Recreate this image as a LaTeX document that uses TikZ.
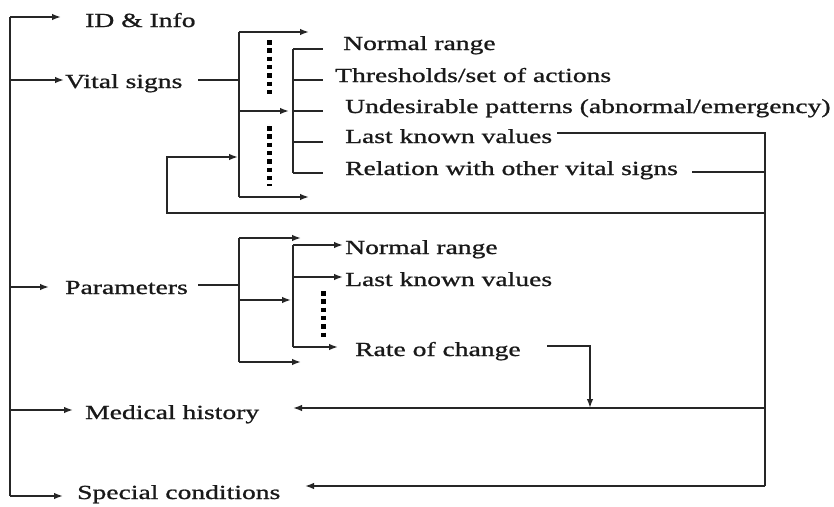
\documentclass[tikz,border=0pt]{standalone}
\usepackage{fontspec}
\setmainfont{Liberation Serif}[FakeStretch=1.38,FakeBold=1]
\usetikzlibrary{arrows.meta}
\begin{document}
\begin{tikzpicture}[x=1pt,y=-1pt,
  wire/.style={line width=1.5pt, draw=black!85},
  arr/.style={wire, -{Latex[length=9pt,width=6.5pt]}},
  dots/.style={line width=5pt, dash pattern=on 4.5pt off 3.8pt, draw=black},
  lbl/.style={anchor=base west, inner sep=0pt, font=\fontsize{20}{24}\selectfont, text=black!90}]
\useasboundingbox[fill=white] (0,0) rectangle (834,506);

% main categories
\node[lbl] (id)  at (85,27)  {ID \& Info};
\node[lbl] (vs)  at (65,88)  {Vital signs};
\node[lbl] (par) at (65,294) {Parameters};
\node[lbl] (mh)  at (85,419) {Medical history};
\node[lbl] (sc)  at (77,499) {Special conditions};

% vital sign attributes
\node[lbl] (vnr)  at (343,50)  {Normal range};
\node[lbl] (vth)  at (335,82)  {Thresholds/set of actions};
\node[lbl] (vun)  at (345,113) {Undesirable patterns (abnormal/emergency)};
\node[lbl] (vlk)  at (345,143) {Last known values};
\node[lbl] (vrel) at (345,175) {Relation with other vital signs};

% parameter attributes
\node[lbl] (pnr) at (345,254) {Normal range};
\node[lbl] (plk) at (345,286) {Last known values};
\node[lbl] (prc) at (355,356) {Rate of change};

% trunk and its branch ends
\coordinate (ttop) at (10,17);
\coordinate (tbot) at (10,496);
\coordinate (tvs)  at (10,80);
\coordinate (tpar) at (10,287);
\coordinate (tmh)  at (10,410);
\coordinate (idin)  at (61,17);
\coordinate (vsin)  at (64,80);
\coordinate (parin) at (49,287);
\coordinate (mhin)  at (73,410);
\coordinate (scin)  at (63,496);

\draw[wire] (ttop) -- (tbot);
\draw[arr] (ttop) -- (idin);
\draw[arr] (tvs) -- (vsin);
\draw[arr] (tpar) -- (parin);
\draw[arr] (tmh) -- (mhin);
\draw[arr] (tbot) -- (scin);

% vital signs fan-out
\coordinate (vsout) at (198,80);
\coordinate (vsj)   at (239,80);
\coordinate (vbt)   at (239,32);
\coordinate (vbb)   at (239,197);
\coordinate (vbm)   at (239,111);
\coordinate (vbl)   at (239,157);
\draw[wire] (vsout) -- (vsj);
\draw[wire] (vbt) -- (vbb);
\draw[arr] (vbt) -- (309,32);
\draw[arr] (vbm) -- (289,111);
\draw[arr] (vbb) -- (309,197);
\draw[dots] (269,40) -- (269,98);
\draw[dots] (269,126) -- (269,186);

% attribute comb
\coordinate (vct) at (293,49);
\coordinate (vcb) at (293,173);
\draw[wire] (vct) -- (vcb);
\foreach \yy in {49,80,111,142,173}
  \draw[wire] (293,\yy) -- (323,\yy);

% feedback from last known values and relations
\coordinate (rtop)  at (765,133);
\coordinate (rrel)  at (765,172);
\coordinate (rloop) at (765,213);
\coordinate (rmh)   at (765,408);
\coordinate (rbot)  at (765,486);
\coordinate (lk)    at (557,133);
\coordinate (rel)   at (692,172);
\draw[wire] (lk) -- (rtop) -- (rbot);
\draw[wire] (rel) -- (rrel);
\draw[arr] (rloop) -- (167,213) -- (167,157) -- (238,157);
\draw[arr] (rmh) -- (293,408);
\draw[arr] (rbot) -- (305,486);

% parameters fan-out
\coordinate (parout) at (198,285);
\coordinate (pj)  at (239,285);
\coordinate (pbt) at (239,238);
\coordinate (pbm) at (239,300);
\coordinate (pbb) at (239,362);
\draw[wire] (parout) -- (pj);
\draw[wire] (pbt) -- (pbb);
\draw[arr] (pbt) -- (301,238);
\draw[arr] (pbm) -- (291,300);
\draw[arr] (pbb) -- (301,362);

\coordinate (pct) at (293,245);
\coordinate (pcm) at (293,277);
\coordinate (pcb) at (293,347);
\draw[wire] (pct) -- (pcb);
\draw[arr] (pct) -- (343,245);
\draw[arr] (pcm) -- (343,277);
\draw[arr] (pcb) -- (338,347);
\draw[dots] (323,291) -- (323,339);

% rate of change feeds medical history
\coordinate (rc) at (547,346);
\draw[arr] (rc) -- (590,346) -- (590,408);
\end{tikzpicture}
\end{document}
